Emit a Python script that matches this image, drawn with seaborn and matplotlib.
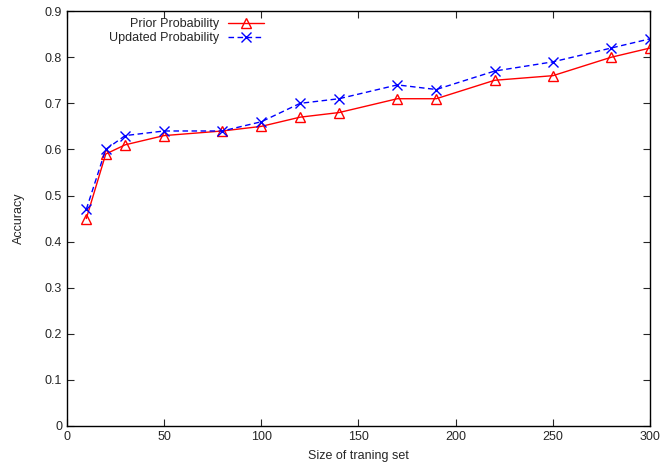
import matplotlib
matplotlib.use("Agg")
import matplotlib.pyplot as plt
import pandas as pd
import seaborn as sns

# === Данные ===
train_size = [10, 20, 30, 50, 80, 100, 120, 140, 170, 190, 220, 250, 280, 300]
prior_acc = [0.45, 0.59, 0.61, 0.63, 0.64, 0.65, 0.67, 0.68, 0.71, 0.71, 0.75, 0.76, 0.80, 0.82]
updated_acc = [0.47, 0.60, 0.63, 0.64, 0.64, 0.66, 0.70, 0.71, 0.74, 0.73, 0.77, 0.79, 0.82, 0.84]

sns.set_style("ticks")
plt.rcParams['font.family'] = ['Liberation Sans', 'DejaVu Sans']

fig = plt.figure(figsize=(6.62, 4.65), dpi=100)
ax = fig.add_axes([0.101, 0.084, 0.881, 0.892])

sns.lineplot(x=train_size, y=prior_acc, ax=ax, color="#ff0000", linewidth=1.0,
             marker="^", markersize=6.5, markerfacecolor="none", markeredgecolor="#ff0000",
             markeredgewidth=1.0, label="Prior Probability")
sns.lineplot(x=train_size, y=updated_acc, ax=ax, color="#0000ff", linewidth=1.0,
             linestyle=(0, (4, 2.5)), marker="x", markersize=7, markeredgewidth=1.0,
             markeredgecolor="#0000ff", label="Updated Probability")

ax.set_xlim(0, 300)
ax.set_ylim(0, 0.9)
ax.set_xticks(range(0, 301, 50))
ax.set_yticks([i / 10 for i in range(10)])
ax.set_yticklabels(["0"] + [f"{i / 10:.1f}" for i in range(1, 10)])
ax.tick_params(direction="in", top=True, right=True, length=5, width=0.8, labelsize=9)
for s in ax.spines.values():
    s.set_linewidth(1.0)
    s.set_color("black")

ax.set_xlabel("Size of traning set", fontsize=9, labelpad=5)
ax.set_ylabel("Accuracy", fontsize=9, labelpad=14)

ax.legend(loc="upper left", bbox_to_anchor=(0.06, 1.0), frameon=False, markerfirst=False,
          fontsize=9, handlelength=2.9, handletextpad=0.7, labelspacing=0.15, borderaxespad=0.15)

plt.savefig("out.png", dpi=100)
plt.close()
